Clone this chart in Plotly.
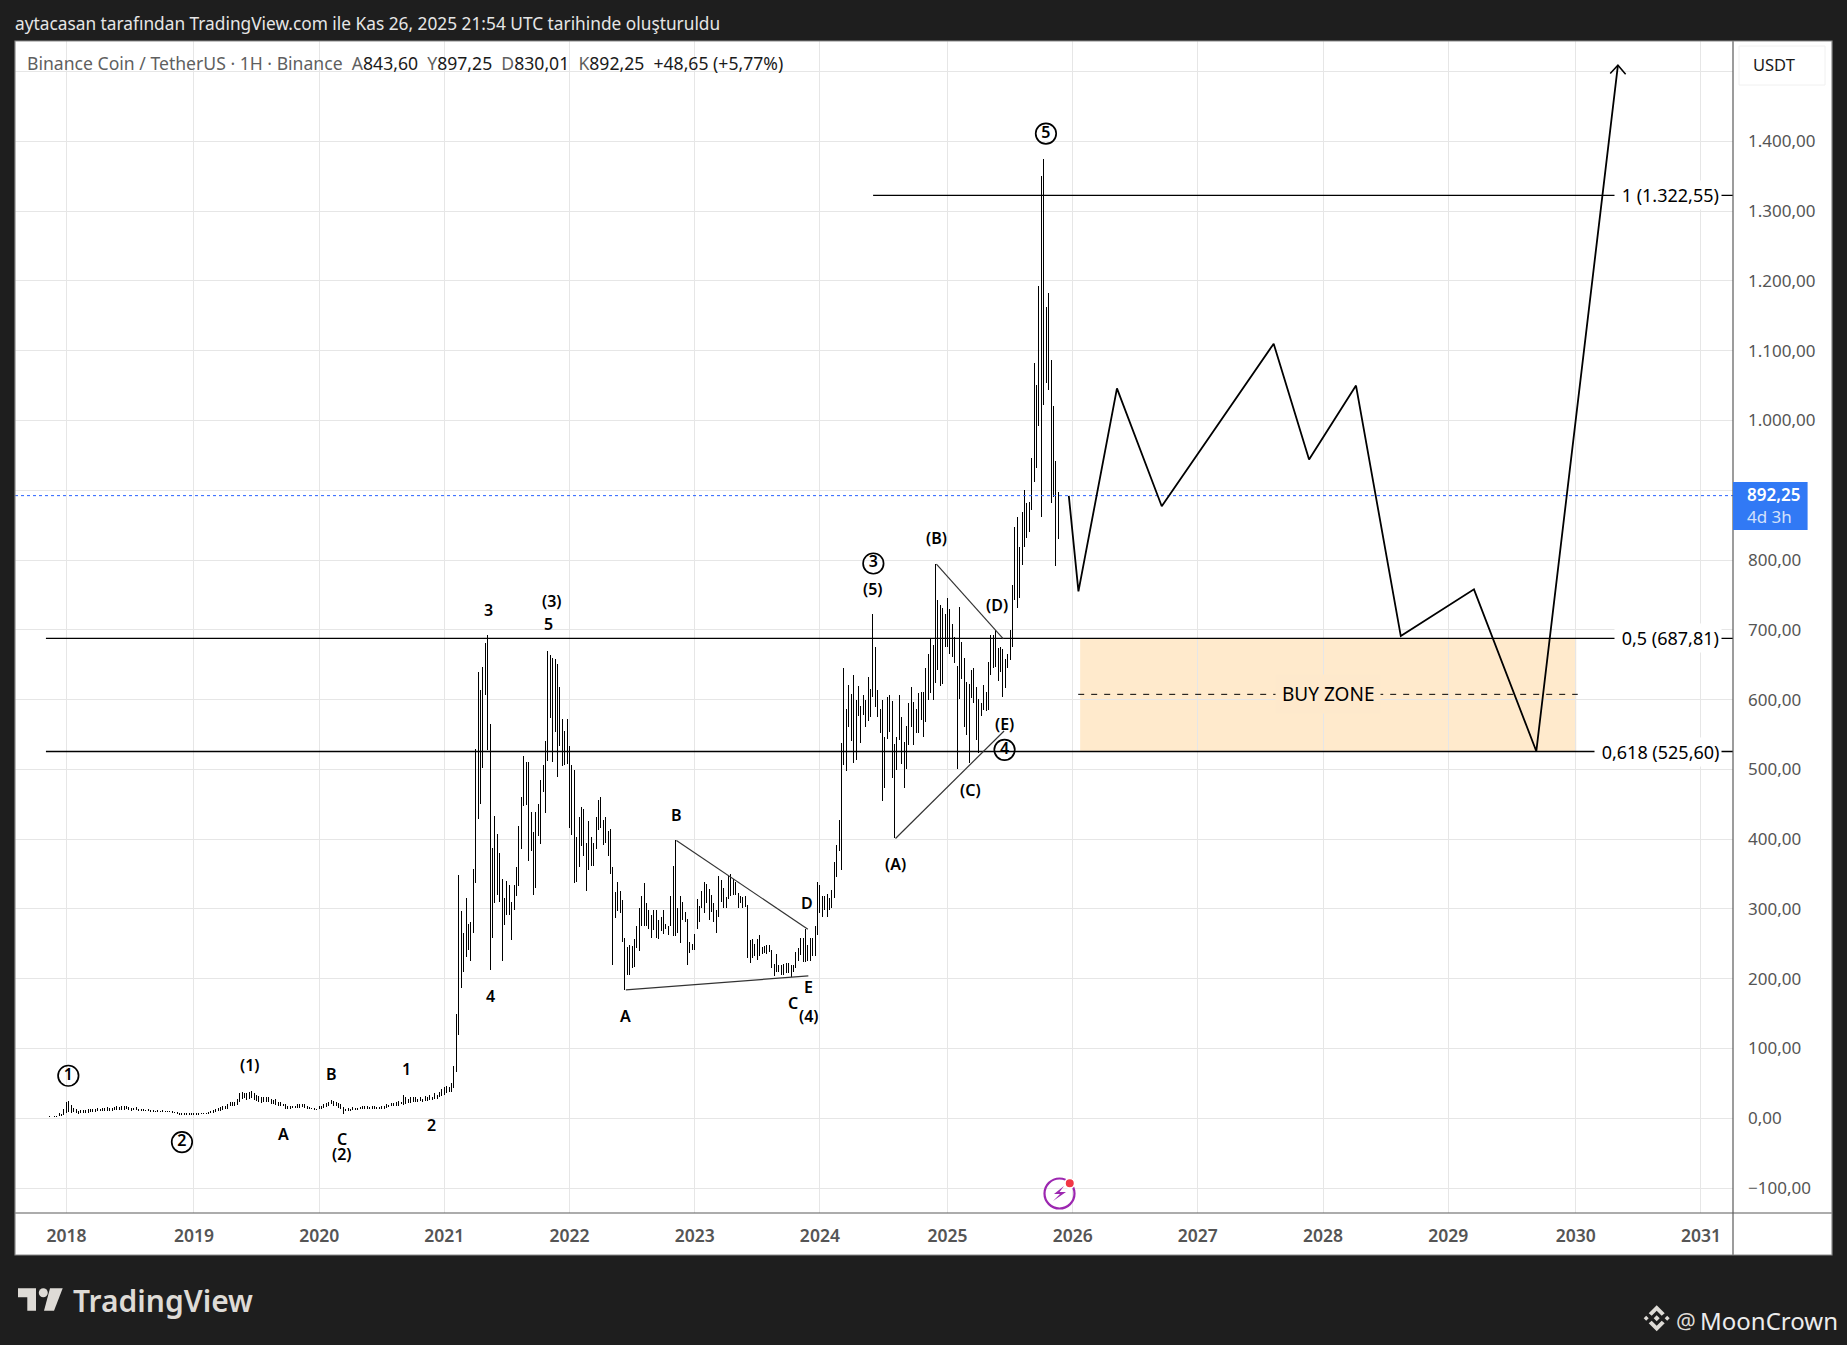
import pandas as pd
import plotly.graph_objects as go

# weekly bars, first one is week -8 (2018-01-01 is week 0)
week_low = [
    1.5, 1.6, 1.7, 2, 2.2, 3, 4, 5, 8, 9,
    7, 9, 7, 6, 7, 7, 8, 8, 9, 9,
    9, 10, 10, 10, 10, 11, 11, 11, 12, 12,
    12, 12, 12, 13, 12, 11, 12, 12, 11, 10,
    10, 10, 10, 9, 9, 9, 9, 9, 9, 9,
    9, 9, 8, 7, 6, 5, 5, 5, 5, 5,
    5, 5, 5, 5, 5.5, 6, 6, 6, 7, 8,
    9, 11, 11, 12, 13, 13, 17, 17, 17, 19,
    24, 27, 29, 26, 27, 29, 26, 25, 24, 22,
    24, 23, 24, 20, 21, 19, 18, 17, 17, 14,
    14, 13, 15, 15, 15, 15, 16, 15, 13, 13,
    13, 12, 12, 13, 14, 15, 16, 18, 20, 18,
    18, 15, 14, 6, 10, 10, 11, 12, 12, 12,
    13, 14, 14, 13, 14, 14, 13, 14, 13, 14,
    14, 15, 16, 17, 18, 18, 18, 21, 19, 21,
    22, 22, 23, 24, 24, 25, 24, 25, 25, 26,
    26, 27, 28, 30, 32, 33, 36, 37, 37, 43,
    67, 119, 187, 210, 231, 241, 226, 266, 337, 429,
    451, 502, 606, 528, 213, 259, 309, 320, 310, 226,
    277, 291, 291, 255, 298, 318, 333, 386, 447, 449,
    369, 383, 320, 330, 404, 393, 467, 437, 512, 574,
    511, 554, 489, 533, 505, 506, 507, 416, 406, 337,
    339, 360, 390, 376, 325, 356, 361, 361, 386, 413,
    416, 392, 395, 376, 350, 220, 287, 297, 294, 252,
    184, 205, 205, 216, 217, 244, 240, 275, 276, 275,
    271, 258, 270, 258, 257, 269, 264, 271, 263, 275,
    261, 261, 265, 251, 284, 282, 220, 237, 241, 241,
    271, 282, 302, 294, 309, 284, 296, 282, 266, 288,
    310, 301, 301, 314, 318, 320, 320, 302, 308, 302,
    303, 229, 222, 229, 232, 227, 232, 236, 237, 236,
    239, 215, 204, 210, 209, 205, 205, 208, 208, 203,
    209, 216, 225, 234, 224, 224, 225, 226, 232, 233,
    263, 294, 289, 299, 289, 299, 301, 315, 346, 383,
    356, 506, 497, 561, 540, 509, 513, 577, 538, 578,
    561, 569, 575, 603, 590, 575, 552, 455, 473, 544,
    554, 488, 401, 499, 542, 508, 473, 501, 535, 561,
    535, 552, 552, 571, 547, 568, 600, 609, 600, 624,
    642, 620, 623, 676, 675, 665, 661, 652, 500, 601,
    630, 561, 549, 509, 602, 595, 542, 523, 577, 585,
    584, 585, 635, 645, 646, 626, 640, 603, 616, 645,
    657, 676, 742, 731, 746, 793, 819, 831, 840, 871,
    912, 932, 992, 861, 1022, 1054, 1044, 882, 890, 792,
    830,
]
week_high = [
    2.2, 2.6, 2.4, 3, 3.6, 7, 6.5, 13, 24, 25,
    19, 15, 13, 10, 12, 12, 12, 13, 14, 13,
    14, 15, 14, 15, 15, 16, 15, 15, 16, 17,
    16, 17, 17, 17, 16, 15, 15, 16, 14, 14,
    13, 12, 13, 12, 12, 11, 12, 11, 12, 11,
    11, 11, 10, 9, 9, 8, 8, 7, 7, 7,
    7, 7, 7, 7.5, 7, 7.5, 8, 9.5, 10, 12,
    14, 15, 16, 17, 18, 21, 24, 23, 24, 27,
    36, 38, 36, 36, 38, 39, 36, 34, 32, 30,
    30, 31, 30, 28, 26, 27, 23, 23, 20, 21,
    17, 17, 18, 18, 20, 20, 21, 20, 18, 16,
    15, 15, 14, 17, 18, 20, 22, 24, 26, 25,
    23, 22, 20, 16, 14, 15, 14, 16, 15, 15,
    16, 17, 17, 17, 16, 17, 17, 16, 16, 17,
    18, 20, 19, 22, 22, 24, 25, 24, 34, 31,
    28, 31, 30, 30, 28, 31, 28, 32, 31, 34,
    31, 36, 34, 38, 42, 45, 47, 45, 50, 75,
    149, 349, 297, 265, 315, 278, 281, 357, 529, 639,
    614, 647, 681, 692, 565, 388, 433, 407, 380, 343,
    316, 340, 334, 310, 335, 360, 419, 460, 519, 510,
    510, 439, 410, 439, 450, 485, 506, 541, 670, 664,
    660, 658, 651, 618, 572, 555, 572, 533, 506, 499,
    403, 432, 446, 443, 394, 426, 403, 394, 432, 456,
    460, 427, 432, 412, 415, 360, 324, 339, 326, 313,
    258, 245, 248, 247, 257, 276, 302, 318, 337, 308,
    299, 292, 299, 299, 284, 289, 298, 278, 276, 318,
    361, 399, 301, 319, 310, 296, 286, 253, 250, 264,
    314, 304, 325, 338, 336, 328, 320, 308, 299, 347,
    341, 330, 317, 347, 350, 343, 339, 323, 318, 317,
    318, 305, 255, 257, 250, 257, 263, 246, 247, 248,
    248, 241, 221, 235, 219, 219, 221, 222, 222, 219,
    220, 238, 244, 258, 258, 271, 248, 258, 259, 276,
    338, 334, 318, 318, 321, 315, 327, 367, 392, 428,
    538, 645, 587, 621, 608, 635, 599, 619, 591, 606,
    599, 632, 615, 723, 675, 614, 587, 599, 547, 603,
    606, 598, 536, 547, 606, 575, 539, 562, 595, 618,
    596, 587, 609, 611, 611, 645, 666, 688, 678, 794,
    743, 735, 731, 723, 745, 730, 709, 689, 648, 732,
    682, 659, 625, 623, 643, 645, 618, 601, 595, 621,
    611, 654, 693, 692, 699, 674, 676, 673, 658, 665,
    699, 764, 847, 861, 819, 869, 901, 881, 883, 946,
    1083, 1051, 1192, 1350, 1375, 1162, 1182, 1087, 1021, 942,
    897,
]

year_labels = ["2018", "2019", "2020", "2021", "2022", "2023", "2024",
               "2025", "2026", "2027", "2028", "2029", "2030", "2031"]
year_dates = ["2018-01-01", "2019-01-07", "2020-01-06", "2021-01-04", "2022-01-03",
              "2023-01-02", "2024-01-01", "2025-01-06", "2026-01-05", "2027-01-04",
              "2028-01-03", "2029-01-01", "2030-01-07", "2031-01-06"]

forecast_week = [416.4, 420.4, 436.4, 455, 501.5, 516.2, 535.7, 554.3, 584.7, 610.6, 644.5]
forecast_price = [892, 755, 1046, 877, 1110, 944, 1050, 691, 758, 526, 1509]
arrow_week = [641.3, 644.5, 647.7]
arrow_price = [1497, 1509, 1496]

tri_a_week = [232.4, 308.2]
tri_a_price = [184, 204]
tri_b_week = [253.4, 308]
tri_b_price = [398, 271]
tri_big_a_week = [344.4, 389.5]
tri_big_a_price = [401, 555]
tri_big_b_week = [361.4, 389.2]
tri_big_b_price = [794, 687]

fib_start_week = [335.1, -8.5, -8.5]
fib_price = [1322.55, 687.81, 525.60]
fib_text = ["1 (1.322,55)", "0,5 (687,81)", "0,618 (525,60)"]

last_price = 892.25
zone_week = [421.1, 627.2]
zone_mid_week = [420.3, 627.8]
zone_mid_price = 607.5

label_text = ["(1)", "A", "B", "C", "(2)", "1", "2", "3", "(3)", "5", "4", "B", "A", "D", "E", "C", "(4)",
              "(A)", "(5)", "(B)", "(D)", "(E)", "(C)"]
label_week = [76.2, 90.2, 110, 114.3, 114.3, 141.3, 151.5, 175.4, 201.6, 200.4, 176.3, 253.4, 232.4,
              307.6, 308.4, 301.7, 308.4, 344.5, 335.2, 361.6, 386.5, 389.7, 375.7]
label_price = [76, -23, 63, -29, -51, 70, -10, 728, 741, 708, 175, 435, 146,
               308, 188, 165, 146, 364, 759, 831, 735, 565, 471]

wave_text = ["1", "2", "3", "4", "5"]
wave_week = [0.8, 48, 335.2, 389.7, 406.9]
wave_price = [61, -34, 795, 528, 1411]


def wk(n):
    return (pd.Timestamp("2018-01-01") + pd.Timedelta(days=7 * n)).strftime("%Y-%m-%d %H:%M")


def wks(items):
    return [wk(n) for n in items]


# page pixels to paper coordinates
def fx(x):
    return (x - 15) / 1718


def fy(y):
    return (1213 - y) / 1172


def poly(points):
    return "M " + " L ".join(f"{fx(x)},{fy(y)}" for x, y in points) + " Z"


x_start = wk(-21.35)
x_end = wk(692.3)
week_dates = wks(range(-8, len(week_low) - 8))
font = "Noto Sans"

fig = go.Figure()

# low to high sticks, tick width 0 so only the stems show
fig.add_trace(go.Ohlc(x=week_dates, open=week_low, high=week_high, low=week_low, close=week_high,
                      tickwidth=0,
                      increasing_line=dict(color="#000000", width=1),
                      decreasing_line=dict(color="#000000", width=1)))


def add_line(xs, ys, color="#000000", width=1.3, dash="solid"):
    fig.add_trace(go.Scatter(x=xs, y=ys, mode="lines", line=dict(color=color, width=width, dash=dash)))


add_line([x_start, x_end], [last_price, last_price], "#2962ff", 1, "dot")
for start, price in zip(fib_start_week, fib_price):
    add_line([wk(start), x_end], [price, price])
for wk_list, pr_list in [(tri_a_week, tri_a_price), (tri_b_week, tri_b_price),
                         (tri_big_a_week, tri_big_a_price), (tri_big_b_week, tri_big_b_price)]:
    add_line(wks(wk_list), pr_list, "#333333", 1.2)
add_line(wks(zone_mid_week), [zone_mid_price, zone_mid_price], "#000000", 1, "6px,7px")
add_line(wks(forecast_week), forecast_price, "#000000", 1.8)
add_line(wks(arrow_week), arrow_price, "#000000", 1.5)

# circled wave numbers
fig.add_trace(go.Scatter(x=wks(wave_week), y=wave_price, mode="markers+text", text=wave_text,
                         textposition="middle center",
                         textfont=dict(family=font, size=16, color="#000000", weight=600),
                         marker=dict(size=20.5, color="rgba(0,0,0,0)", line=dict(color="#000000", width=1.7))))

shapes = [
    # axis panes and frame
    dict(type="rect", xref="paper", yref="paper", x0=1, x1=fx(1832), y0=fy(41), y1=fy(1255),
         fillcolor="#ffffff", line_width=0, layer="below"),
    dict(type="rect", xref="paper", yref="paper", x0=0, x1=1, y0=fy(1255), y1=0,
         fillcolor="#ffffff", line_width=0, layer="below"),
    dict(type="rect", xref="x", yref="y", x0=wk(zone_week[0]), x1=wk(zone_week[1]), y0=fib_price[2], y1=fib_price[1],
         fillcolor="rgba(255,152,0,0.2)", line_width=0, layer="below"),
    dict(type="line", xref="paper", yref="paper", x0=1, x1=1, y0=fy(41), y1=fy(1255),
         line=dict(color="#5a5a5a", width=1.2)),
    dict(type="line", xref="paper", yref="paper", x0=0, x1=fx(1832), y0=0, y1=0,
         line=dict(color="#5a5a5a", width=1.2)),
    dict(type="rect", xref="paper", yref="paper", x0=0, x1=fx(1832), y0=fy(1255), y1=1,
         line=dict(color="#8a8a8a", width=1.2)),
    # USDT button and price tag
    dict(type="rect", xref="paper", yref="paper", x0=fx(1739), x1=fx(1825), y0=fy(85), y1=fy(46),
         line=dict(color="#f0f0f0", width=1), fillcolor="#ffffff"),
    dict(type="rect", xref="paper", yref="paper", x0=1, x1=fx(1807.6), y0=fy(530), y1=fy(482),
         line_width=0, fillcolor="#3179f5"),
    # purple icon
    dict(type="circle", xref="paper", yref="paper", x0=fx(1044.5), x1=fx(1074.5), y0=fy(1208.5), y1=fy(1178.5),
         line=dict(color="#9c27b0", width=2.2)),
    dict(type="path", xref="paper", yref="paper", line_width=0, fillcolor="#9c27b0",
         path=poly([(1064, 1186), (1054, 1194), (1060, 1194), (1053, 1201), (1066, 1192), (1059.5, 1192)])),
    dict(type="circle", xref="paper", yref="paper", x0=fx(1065), x1=fx(1074.5), y0=fy(1188), y1=fy(1178.5),
         fillcolor="#f23645", line=dict(color="#ffffff", width=1.5)),
    # TradingView mark
    dict(type="path", xref="paper", yref="paper", line_width=0, fillcolor="#dedbd6",
         path=poly([(18, 1288.3), (36, 1288.3), (36, 1310.7), (27.3, 1310.7), (27.3, 1297.3), (18, 1297.3)])),
    dict(type="path", xref="paper", yref="paper", line_width=0, fillcolor="#dedbd6",
         path=poly([(50, 1288.3), (62.7, 1288.3), (54, 1310.7), (44, 1310.7)])),
    dict(type="circle", xref="paper", yref="paper", x0=fx(38.8), x1=fx(47.8), y0=fy(1297.2), y1=fy(1288.2),
         fillcolor="#dedbd6", line_width=0),
]

# Binance mark
bx, by = 1656.7, 1318.3
for part in [
    [(0, -13), (8, -5), (5, -2.5), (0, -7.5), (-5, -2.5), (-8, -5)],
    [(0, 13), (8, 5), (5, 2.5), (0, 7.5), (-5, 2.5), (-8, 5)],
    [(0, -3), (3, 0), (0, 3), (-3, 0)],
    [(-10.5, -2.5), (-8, 0), (-10.5, 2.5), (-13, 0)],
    [(10.5, -2.5), (13, 0), (10.5, 2.5), (8, 0)],
]:
    shapes.append(dict(type="path", xref="paper", yref="paper", line_width=0, fillcolor="#dedbd6",
                       path=poly([(bx + a, by + b) for a, b in part])))

annotations = []


def add_text(text, x, y, size=16, color="#000000", anchor="left", weight=None):
    annotations.append(dict(text=text, xref="paper", yref="paper", x=fx(x), y=fy(y), xanchor=anchor, yanchor="middle",
                            align="left", showarrow=False, borderpad=0,
                            font=dict(family=font, size=size, color=color, weight=weight)))


for text, n, price in zip(label_text, label_week, label_price):
    annotations.append(dict(text=text, xref="x", yref="y", x=wk(n), y=price, showarrow=False, borderpad=0,
                            font=dict(family=font, size=16, color="#000000", weight=600)))

for text, price in zip(fib_text, fib_price):
    annotations.append(dict(text="\u00a0" + text, xref="paper", yref="y", x=fx(1722), y=price, xanchor="right",
                            yanchor="middle", showarrow=False, bgcolor="#ffffff", borderpad=2,
                            font=dict(family=font, size=18, color="#000000")))

annotations.append(dict(text="BUY ZONE", xref="x", yref="y", x=wk(524.2), y=zone_mid_price, showarrow=False,
                        bgcolor="#fee9cc", borderpad=6, font=dict(family=font, size=19, color="#000000")))

add_text("aytacasan tarafından TradingView.com ile Kas 26, 2025 21:54 UTC tarihinde oluşturuldu", 14, 23, 17.3, "#e6e6e6")
grey, ink = "#5f5f5f", "#1a1a1a"
gap = "\u00a0\u00a0"
legend_text = (f'<span style="color:{grey}">Binance Coin / TetherUS · 1H · Binance{gap}A</span>'
               f'<span style="color:{ink}">843,60{gap}</span><span style="color:{grey}">Y</span>'
               f'<span style="color:{ink}">897,25{gap}</span><span style="color:{grey}">D</span>'
               f'<span style="color:{ink}">830,01{gap}</span><span style="color:{grey}">K</span>'
               f'<span style="color:{ink}">892,25{gap}+48,65 (+5,77%)</span>')
add_text(legend_text, 26, 63, 17.6, grey)
add_text("USDT", 1752, 65, 16.5, "#1a1a1a")
add_text('<span style="font-weight:600">892,25</span><br><span style="color:#d4e2fb">4d 3h</span>', 1746, 505.5, 17, "#ffffff")
add_text("TradingView", 72, 1300, 30, "#dedbd6", weight=600)
add_text("@", 1675, 1320, 22, "#dedbd6")
add_text("MoonCrown", 1699, 1320, 24, "#ececec")

fig.update_layout(
    width=1847, height=1345, showlegend=False,
    margin=dict(l=15, r=114, t=41, b=132),
    paper_bgcolor="#1e1e1e", plot_bgcolor="#ffffff",
    separators=",.",
    shapes=shapes, annotations=annotations,
    xaxis=dict(type="date", range=[x_start, x_end], tickvals=year_dates, ticktext=year_labels,
               showgrid=True, gridcolor="#e6e6e6", gridwidth=1, rangeslider=dict(visible=False),
               ticks="", ticklabelstandoff=10, zeroline=False,
               tickfont=dict(family=font, size=17.5, color="#555555", weight=600)),
    yaxis=dict(side="right", range=[-135.7, 1543.7], tick0=0, dtick=100, tickformat=",.2f",
               showgrid=True, gridcolor="#e6e6e6", gridwidth=1, zeroline=False,
               ticks="", ticklabelstandoff=14,
               tickfont=dict(family=font, size=17, color="#555555")),
)

# crisp one pixel sticks, like the reference bars
crisp = "document.body.style.margin='0';document.querySelectorAll('.ohlc path').forEach(p=>p.style.shapeRendering='crispEdges');"
fig.write_html("out.html", config=dict(displayModeBar=False), post_script=crisp)
